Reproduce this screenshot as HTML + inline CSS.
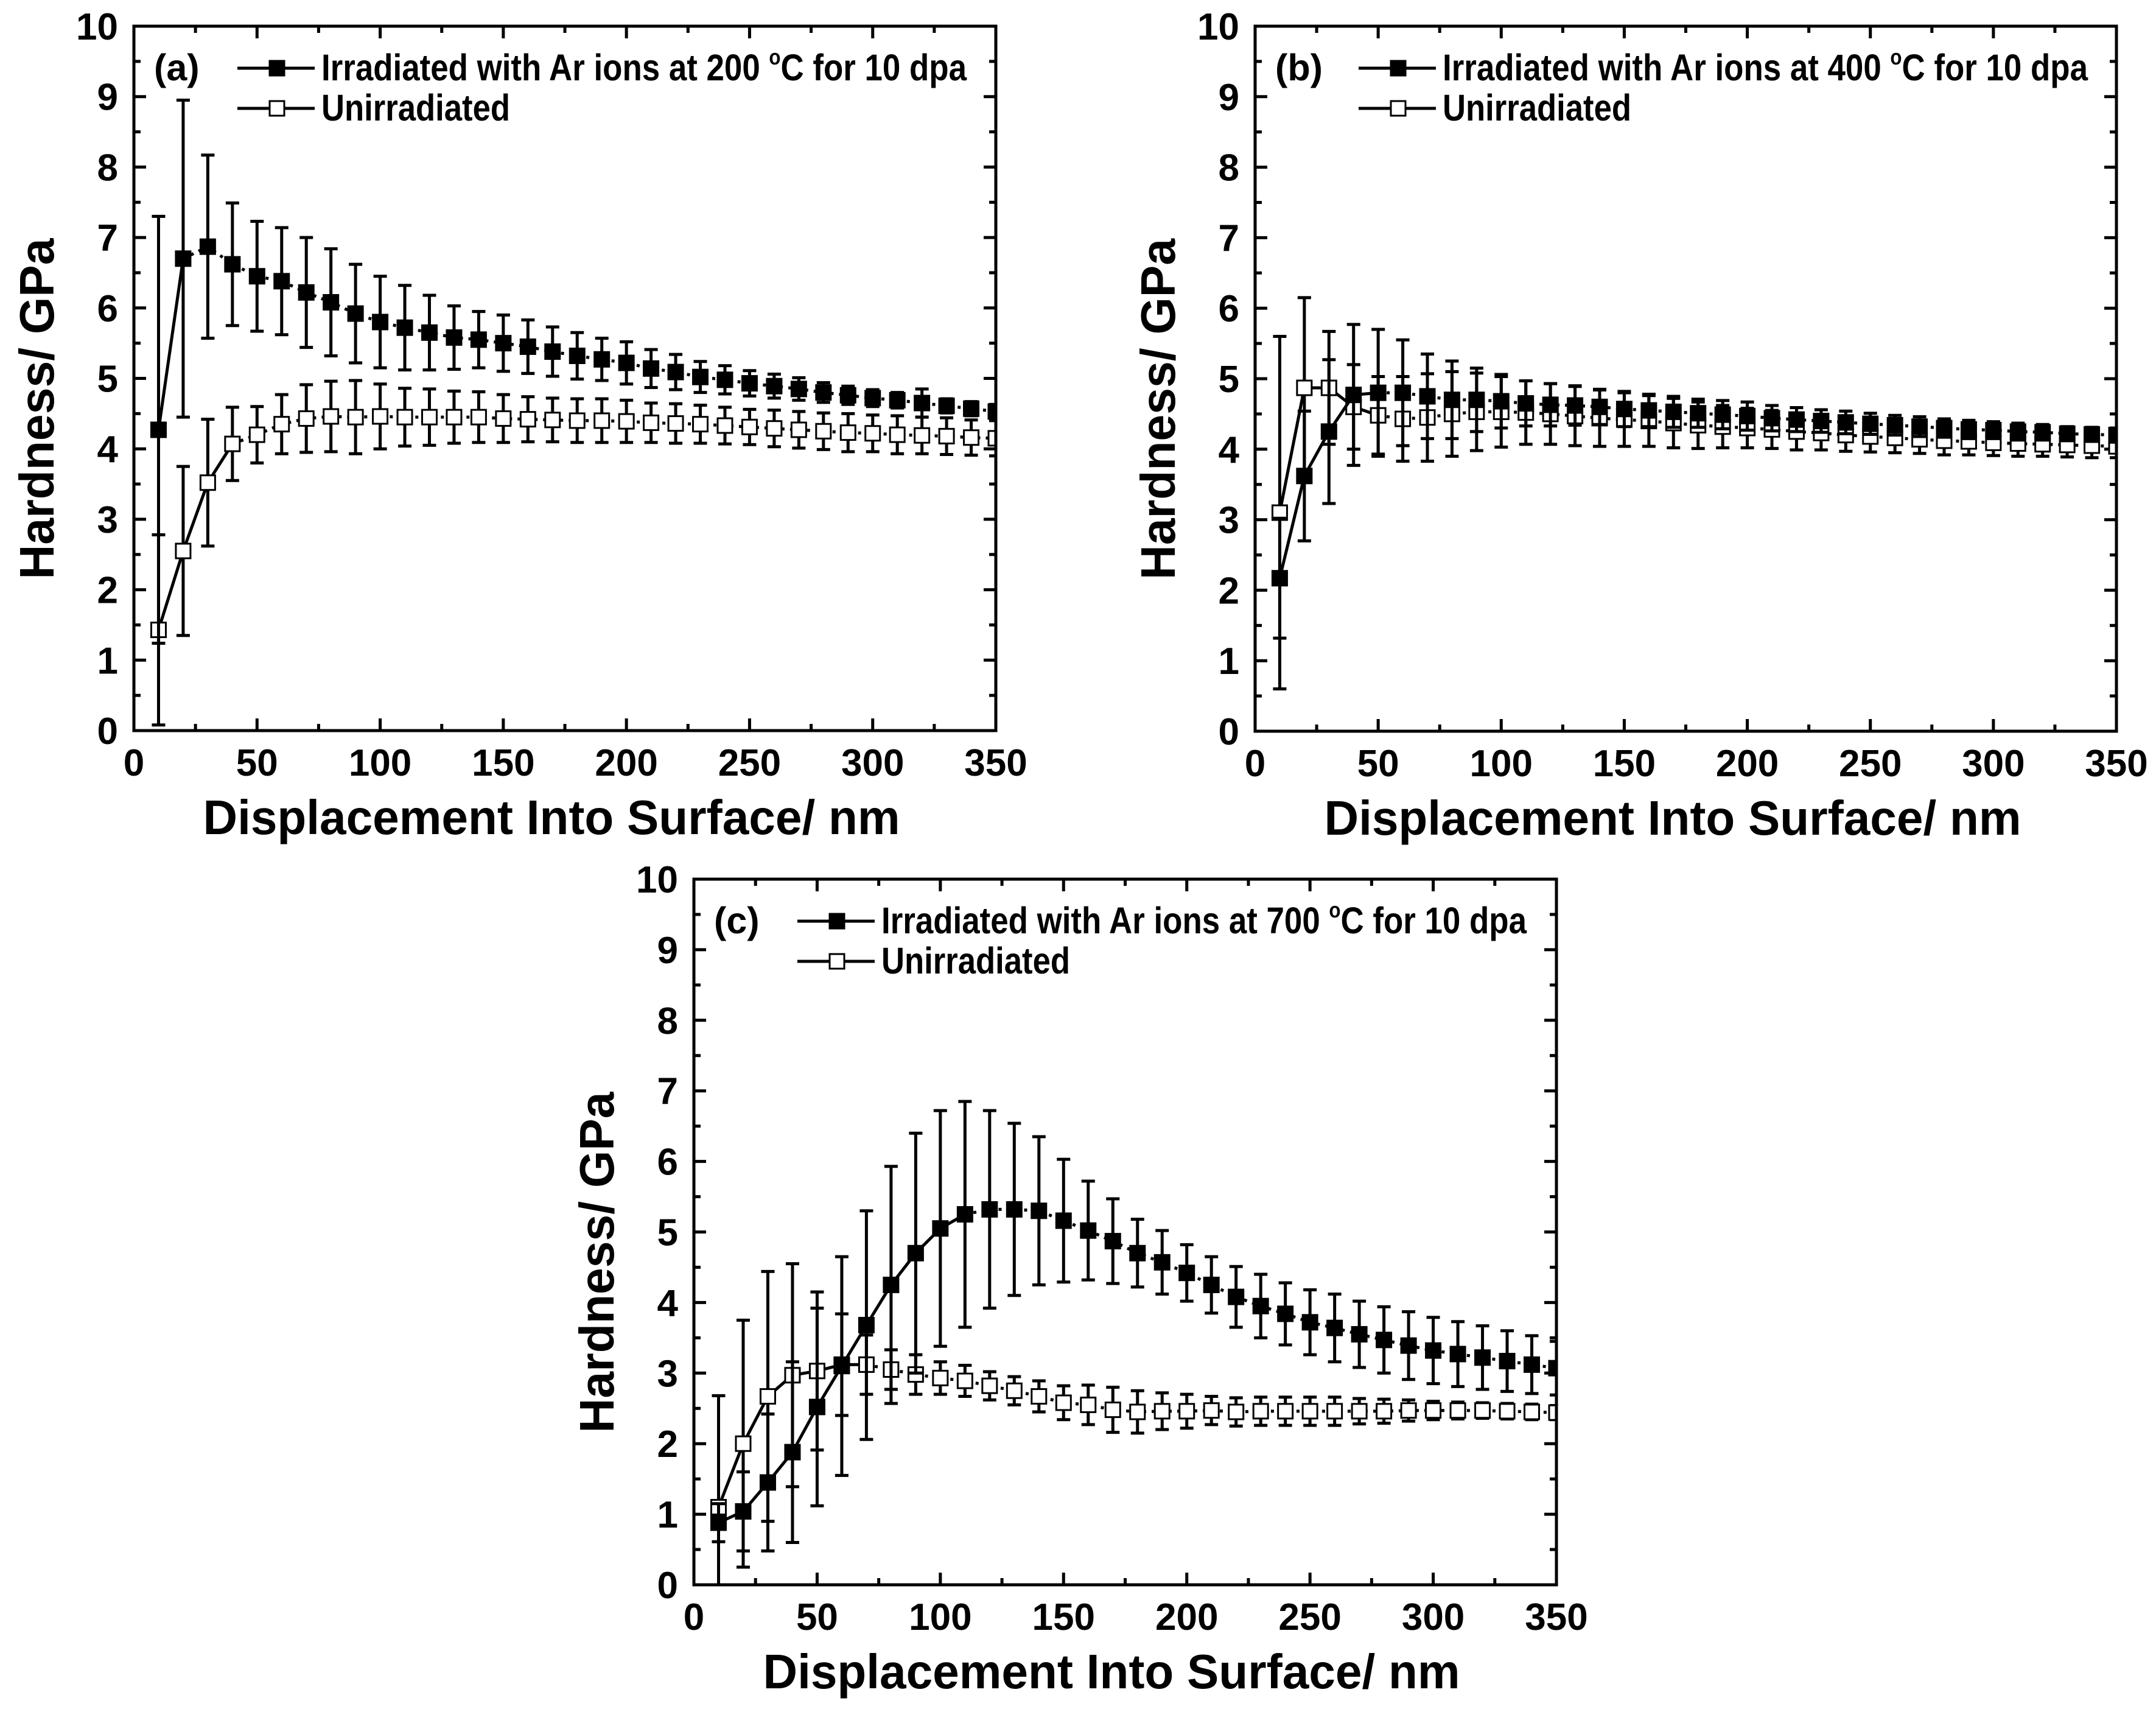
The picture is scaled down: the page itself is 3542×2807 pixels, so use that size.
<!DOCTYPE html>
<html><head><meta charset="utf-8"><style>
html,body{margin:0;padding:0;background:#fff;}
svg{display:block;}
text{font-family:"Liberation Sans",Arial,sans-serif;font-weight:bold;fill:#000;}
</style></head><body>
<svg id="chart" width="3542" height="2807" viewBox="0 0 3542 2807" xmlns="http://www.w3.org/2000/svg">
<defs>
<clipPath id="clipA"><rect x="220" y="43" width="1416" height="1157"/></clipPath>
<clipPath id="clipB"><rect x="2062" y="43" width="1415" height="1158"/></clipPath>
<clipPath id="clipC"><rect x="1140" y="1444" width="1417" height="1159"/></clipPath>
</defs>
</svg>
<script>
const depth=[10,20,30,40,50,60,70,80,90,100,110,120,130,140,150,160,170,180,190,200,210,220,230,240,250,260,270,280,290,300,310,320,330,340,350];
const xTicks=[0,50,100,150,200,250,300,350];
const yTicks=[0,1,2,3,4,5,6,7,8,9,10];
// Panel (a)
const aIrr=[4.27,6.7,6.87,6.62,6.45,6.38,6.22,6.08,5.92,5.8,5.72,5.65,5.58,5.55,5.5,5.45,5.38,5.32,5.27,5.22,5.14,5.09,5.02,4.98,4.93,4.89,4.85,4.8,4.76,4.72,4.69,4.65,4.61,4.57,4.53];
const aIrrErr=[3.03,2.25,1.3,0.87,0.78,0.76,0.78,0.76,0.7,0.65,0.6,0.53,0.45,0.4,0.4,0.38,0.35,0.33,0.3,0.3,0.27,0.25,0.22,0.2,0.18,0.17,0.16,0.14,0.13,0.12,0.11,0.2,0.1,0.1,0.1];
const aUn=[1.43,2.55,3.52,4.07,4.2,4.35,4.43,4.46,4.45,4.46,4.45,4.45,4.45,4.45,4.43,4.42,4.41,4.4,4.4,4.39,4.37,4.36,4.35,4.33,4.31,4.29,4.27,4.25,4.23,4.22,4.2,4.19,4.18,4.16,4.15];
const aUnErr=[1.35,1.2,0.9,0.52,0.4,0.42,0.48,0.5,0.52,0.46,0.41,0.4,0.37,0.36,0.34,0.32,0.31,0.31,0.31,0.3,0.28,0.28,0.27,0.26,0.25,0.26,0.26,0.26,0.27,0.26,0.27,0.26,0.26,0.25,0.25];
// Panel (b)
const bIrr=[2.17,3.62,4.25,4.77,4.8,4.8,4.75,4.7,4.7,4.68,4.65,4.63,4.62,4.6,4.57,4.55,4.53,4.51,4.49,4.47,4.44,4.42,4.4,4.38,4.36,4.34,4.32,4.3,4.28,4.27,4.25,4.24,4.22,4.21,4.2];
const bIrrErr=[0.85,0.92,1.02,1.0,0.9,0.75,0.6,0.55,0.45,0.38,0.32,0.3,0.28,0.25,0.25,0.23,0.22,0.2,0.2,0.2,0.18,0.17,0.16,0.16,0.15,0.14,0.14,0.13,0.13,0.12,0.12,0.11,0.1,0.1,0.1];
const bUn=[3.1,4.87,4.87,4.6,4.48,4.43,4.45,4.5,4.53,4.53,4.52,4.5,4.47,4.44,4.42,4.4,4.37,4.34,4.32,4.3,4.28,4.25,4.23,4.2,4.18,4.16,4.14,4.12,4.11,4.09,4.08,4.07,4.06,4.05,4.04];
const bUnErr=[2.5,1.28,0.8,0.6,0.55,0.6,0.62,0.6,0.55,0.5,0.45,0.43,0.42,0.4,0.38,0.36,0.35,0.33,0.3,0.28,0.27,0.26,0.24,0.23,0.22,0.21,0.2,0.2,0.19,0.18,0.18,0.17,0.17,0.17,0.16];
// Panel (c)
const cIrr=[0.88,1.04,1.45,1.88,2.52,3.1,3.68,4.25,4.7,5.05,5.25,5.32,5.32,5.3,5.16,5.02,4.87,4.7,4.57,4.42,4.25,4.08,3.95,3.84,3.72,3.64,3.55,3.47,3.39,3.32,3.27,3.22,3.17,3.12,3.07];
const cIrrErr=[0.27,0.56,0.97,1.28,1.4,1.55,1.62,1.68,1.7,1.67,1.6,1.4,1.22,1.05,0.87,0.7,0.6,0.48,0.45,0.4,0.4,0.43,0.45,0.44,0.46,0.48,0.47,0.47,0.48,0.47,0.46,0.45,0.43,0.41,0.38];
const cUn=[1.1,2.0,2.67,2.97,3.03,3.12,3.12,3.05,2.98,2.93,2.89,2.82,2.75,2.67,2.58,2.55,2.48,2.45,2.46,2.46,2.47,2.45,2.46,2.46,2.46,2.46,2.46,2.46,2.47,2.47,2.47,2.47,2.46,2.45,2.44];
const cUnErr=[1.58,1.75,1.77,1.58,1.12,0.72,0.42,0.28,0.28,0.23,0.22,0.2,0.2,0.22,0.24,0.28,0.32,0.3,0.26,0.24,0.2,0.2,0.2,0.2,0.2,0.2,0.18,0.17,0.15,0.13,0.12,0.11,0.11,0.11,0.1];

const NS='http://www.w3.org/2000/svg';
const svg=document.getElementById('chart');
function mk(tag,attrs,parent){const e=document.createElementNS(NS,tag);for(const k in attrs)e.setAttribute(k,attrs[k]);(parent||svg).appendChild(e);return e;}

function panel(key,L,T,R,B,clip,irr,irrErr,un,unErr,temp,irrSolid,unSolid){
  const g=mk('g',{});
  
  
  const xS=d=>L+(R-L)*d/350;
  const yS=v=>B-(B-T)*v/10;
  // ticks
  for(let d=0;d<=350;d+=25){
    const len=(d%50===0)?20:11;
    const t1=mk('line',{x1:xS(d),x2:xS(d),y1:B,y2:B-len,stroke:'#000','stroke-width':5},g);
    
    
    const t2=mk('line',{x1:xS(d),x2:xS(d),y1:T,y2:T+len,stroke:'#000','stroke-width':5},g);
    
    
  }
  for(let v=0;v<=10;v+=0.5){
    const len=(Math.abs(v-Math.round(v))<1e-6)?20:11;
    const t1=mk('line',{x1:L,x2:L+len,y1:yS(v),y2:yS(v),stroke:'#000','stroke-width':5},g);
    
    
    const t2=mk('line',{x1:R,x2:R-len,y1:yS(v),y2:yS(v),stroke:'#000','stroke-width':5},g);
    
    
  }
  xTicks.forEach(d=>{
    const t=mk('text',{x:xS(d),y:B+74,'font-size':62,'text-anchor':'middle'},g);
    
    
    t.textContent=d;
  });
  yTicks.forEach(v=>{
    const t=mk('text',{x:L-26,y:yS(v)+22,'font-size':62,'text-anchor':'end'},g);
    
    
    t.textContent=v;
  });
  // axis titles
  const xt=mk('text',{x:L+686,y:B+170,'font-size':80,'text-anchor':'middle',textLength:1145,lengthAdjust:'spacingAndGlyphs'},g);
  
  
  xt.textContent='Displacement Into Surface/ nm';
  const cy=(T+B)/2+50;
  const yt=mk('text',{x:L-132,y:cy,'font-size':80,'text-anchor':'middle',transform:'rotate(-90 '+(L-132)+' '+cy+')',textLength:560,lengthAdjust:'spacingAndGlyphs'},g);
  
  
  yt.textContent='Hardness/ GPa';
  // data
  const dg=mk('g',{'clip-path':'url(#'+clip+')'},g);
  
  
  function series(vals,errs,filled,solidN,name){
    const sg=mk('g',{},dg);
    
    
    let p1='',p2='';
    depth.forEach((d,i)=>{
      if(i<solidN) p1+=(i===0?'M':'L')+xS(d)+' '+yS(vals[i])+' ';
      if(i>=solidN-1) p2+=(i===solidN-1?'M':'L')+xS(d)+' '+yS(vals[i])+' ';
    });
    const l1=mk('path',{d:p1,fill:'none',stroke:'#000','stroke-width':5},sg);
    
    
    const l2=mk('path',{d:p2,fill:'none',stroke:'#000','stroke-width':5,'stroke-dasharray':'5 9'},sg);
    
    
    depth.forEach((d,i)=>{
      const x=xS(d),hi=yS(vals[i]+errs[i]),lo=yS(vals[i]-errs[i]);
      const eb=mk('path',{d:`M${x} ${hi}L${x} ${lo}M${x-11} ${hi}L${x+11} ${hi}M${x-11} ${lo}L${x+11} ${lo}`,stroke:'#000','stroke-width':5,fill:'none'},sg);
      
      
    });
    depth.forEach((d,i)=>{
      const m=mk('rect',{x:xS(d)-12,y:yS(vals[i])-12,width:24,height:24,fill:filled?'#000':'#fff',stroke:'#000','stroke-width':3},sg);
      
      
    });
  }
  series(un,unErr,false,unSolid,'unirradiated-series');
  series(irr,irrErr,true,irrSolid,'irradiated-series');
  // frame
  const fr=mk('rect',{x:L,y:T,width:R-L,height:B-T,fill:'none',stroke:'#000','stroke-width':5},g);
  
  
  // panel label
  const pl=mk('text',{x:L+33,y:T+89,'font-size':61},g);
  
  
  pl.textContent='('+key+')';
  // legend
  const rows=[{y:T+69,f:true,t:null},{y:T+135,f:false,t:'Unirradiated'}];
  rows.forEach((r,i)=>{
    const lg=mk('g',{},g);
    
    
    mk('line',{x1:L+170,x2:L+297,y1:r.y,y2:r.y,stroke:'#000','stroke-width':5},lg);
    mk('rect',{x:L+223,y:r.y-12,width:24,height:24,fill:r.f?'#000':'#fff',stroke:'#000','stroke-width':3},lg);
    if(i===0){
      const tx=mk('text',{x:L+308,y:r.y+20,'font-size':61,textLength:1060,lengthAdjust:'spacingAndGlyphs'},lg);
      tx.innerHTML='Irradiated with Ar ions at '+temp+' <tspan font-size="36" dy="-26">o</tspan><tspan dy="26">C for 10 dpa</tspan>';
    } else {
      const tx=mk('text',{x:L+308,y:r.y+20,'font-size':61,textLength:310,lengthAdjust:'spacingAndGlyphs'},lg);
      tx.textContent=r.t;
    }
  });
}
panel('a',220,43,1636,1200,'clipA',aIrr,aIrrErr,aUn,aUnErr,'200',2,4);
panel('b',2062,43,3477,1201,'clipB',bIrr,bIrrErr,bUn,bUnErr,'400',5,5);
panel('c',1140,1444,2557,2603,'clipC',cIrr,cIrrErr,cUn,cUnErr,'700',11,7);
</script>
</body></html>
